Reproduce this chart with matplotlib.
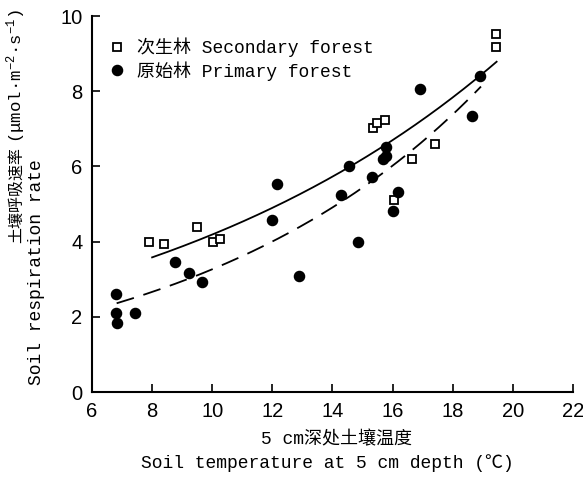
import numpy as np
import matplotlib
matplotlib.use("Agg")
import matplotlib.pyplot as plt
from matplotlib.lines import Line2D

# Secondary forest (open squares)
sec_x = [7.90, 8.40, 9.49, 10.03, 10.26, 15.34, 15.49, 15.76, 16.06, 16.66, 17.42, 19.44, 19.44]
sec_y = [3.99, 3.94, 4.39, 3.99, 4.07, 7.01, 7.16, 7.24, 5.11, 6.19, 6.59, 9.52, 9.18]

# Primary forest (filled circles)
pri_x = [6.80, 6.80, 6.83, 7.43, 8.75, 9.23, 9.65, 11.98, 12.14, 12.90, 14.28, 14.84,
         16.01, 16.17, 14.55, 15.32, 15.77, 15.78, 15.67, 16.91, 18.65, 18.91]
pri_y = [2.60, 2.09, 1.84, 2.09, 3.45, 3.16, 2.92, 4.57, 5.52, 3.09, 5.25, 3.98,
         4.81, 5.32, 6.02, 5.71, 6.52, 6.28, 6.20, 8.07, 7.35, 8.41]

# Exponential fits y = a * exp(b * x)
sec_fit = {"a": 1.914, "b": 0.0783, "xmin": 8.0, "xmax": 19.46}
pri_fit = {"a": 1.177, "b": 0.1020, "xmin": 6.82, "xmax": 18.94}

x_ticks = [6, 8, 10, 12, 14, 16, 18, 20, 22]
y_ticks = [0, 2, 4, 6, 8, 10]

plt.rcParams["mathtext.fontset"] = "custom"
plt.rcParams["mathtext.rm"] = "Liberation Mono"
plt.rcParams["mathtext.it"] = "Liberation Mono"

mono = ["Liberation Mono", "Noto Sans CJK SC", "DejaVu Sans"]
cjk = ["Noto Sans CJK SC", "Liberation Mono"]

fig = plt.figure(figsize=(5.83, 4.82), dpi=100)
ax = fig.add_axes([0.1578, 0.1867, 0.8250, 0.7801])

xs = np.linspace(sec_fit["xmin"], sec_fit["xmax"], 200)
ax.plot(xs, sec_fit["a"] * np.exp(sec_fit["b"] * xs), color="black", lw=1.3)
xp = np.linspace(pri_fit["xmin"], pri_fit["xmax"], 200)
ax.plot(xp, pri_fit["a"] * np.exp(pri_fit["b"] * xp), color="black", lw=1.3,
        dashes=(10, 5.5))

ax.plot(sec_x, sec_y, ls="none", marker="s", ms=6.3, mfc="white", mec="black",
        mew=1.3, zorder=3)
ax.plot(pri_x, pri_y, ls="none", marker="o", ms=7.3, mfc="black", mec="black",
        zorder=3)

ax.set_xlim(6, 22)
ax.set_ylim(0, 10)
ax.set_xticks(x_ticks)
ax.set_yticks(y_ticks)
ax.tick_params(direction="in", length=6, width=1.2, labelsize=14.5, pad=7)
for lab in ax.get_xticklabels() + ax.get_yticklabels():
    lab.set_fontfamily("Liberation Sans")
ax.spines["top"].set_visible(False)
ax.spines["right"].set_visible(False)
for s in ["left", "bottom"]:
    ax.spines[s].set_linewidth(1.5)

handles = [
    Line2D([], [], ls="none", marker="s", ms=6.3, mfc="white", mec="black", mew=1.3),
    Line2D([], [], ls="none", marker="o", ms=7.3, mfc="black", mec="black"),
]
leg = ax.legend(handles, ["次生林 Secondary forest", "原始林 Primary forest"],
                loc="upper left", bbox_to_anchor=(0.0, 0.985), frameon=False,
                handlelength=1.0, handletextpad=0.6, labelspacing=0.2,
                prop={"family": mono, "size": 13})
for t in leg.get_texts():
    t.set_fontfamily(mono)

# axis labels as figure texts
fig.text(336 / 583, 1 - 440 / 482, "5 cm深处土壤温度", ha="center", va="center",
         family=mono, fontsize=13)
fig.text(327 / 583, 1 - 463 / 482, "Soil temperature at 5 cm depth (℃)",
         ha="center", va="center", family=mono, fontsize=13)
fig.text(16 / 583, 1 - 243 / 482, "土壤呼吸速率", ha="center", va="bottom",
         rotation=90, family=cjk, fontsize=11.5)
fig.text(16 / 583, 1 - 143 / 482, "(μmol·m$^{-2}$·s$^{-1}$)", ha="center",
         va="bottom", rotation=90, family=mono, fontsize=12.5)
fig.text(37 / 583, 1 - 272 / 482, "Soil respiration rate", ha="center",
         va="center", rotation=90, family=mono, fontsize=13)

fig.savefig("out.png", dpi=100)
